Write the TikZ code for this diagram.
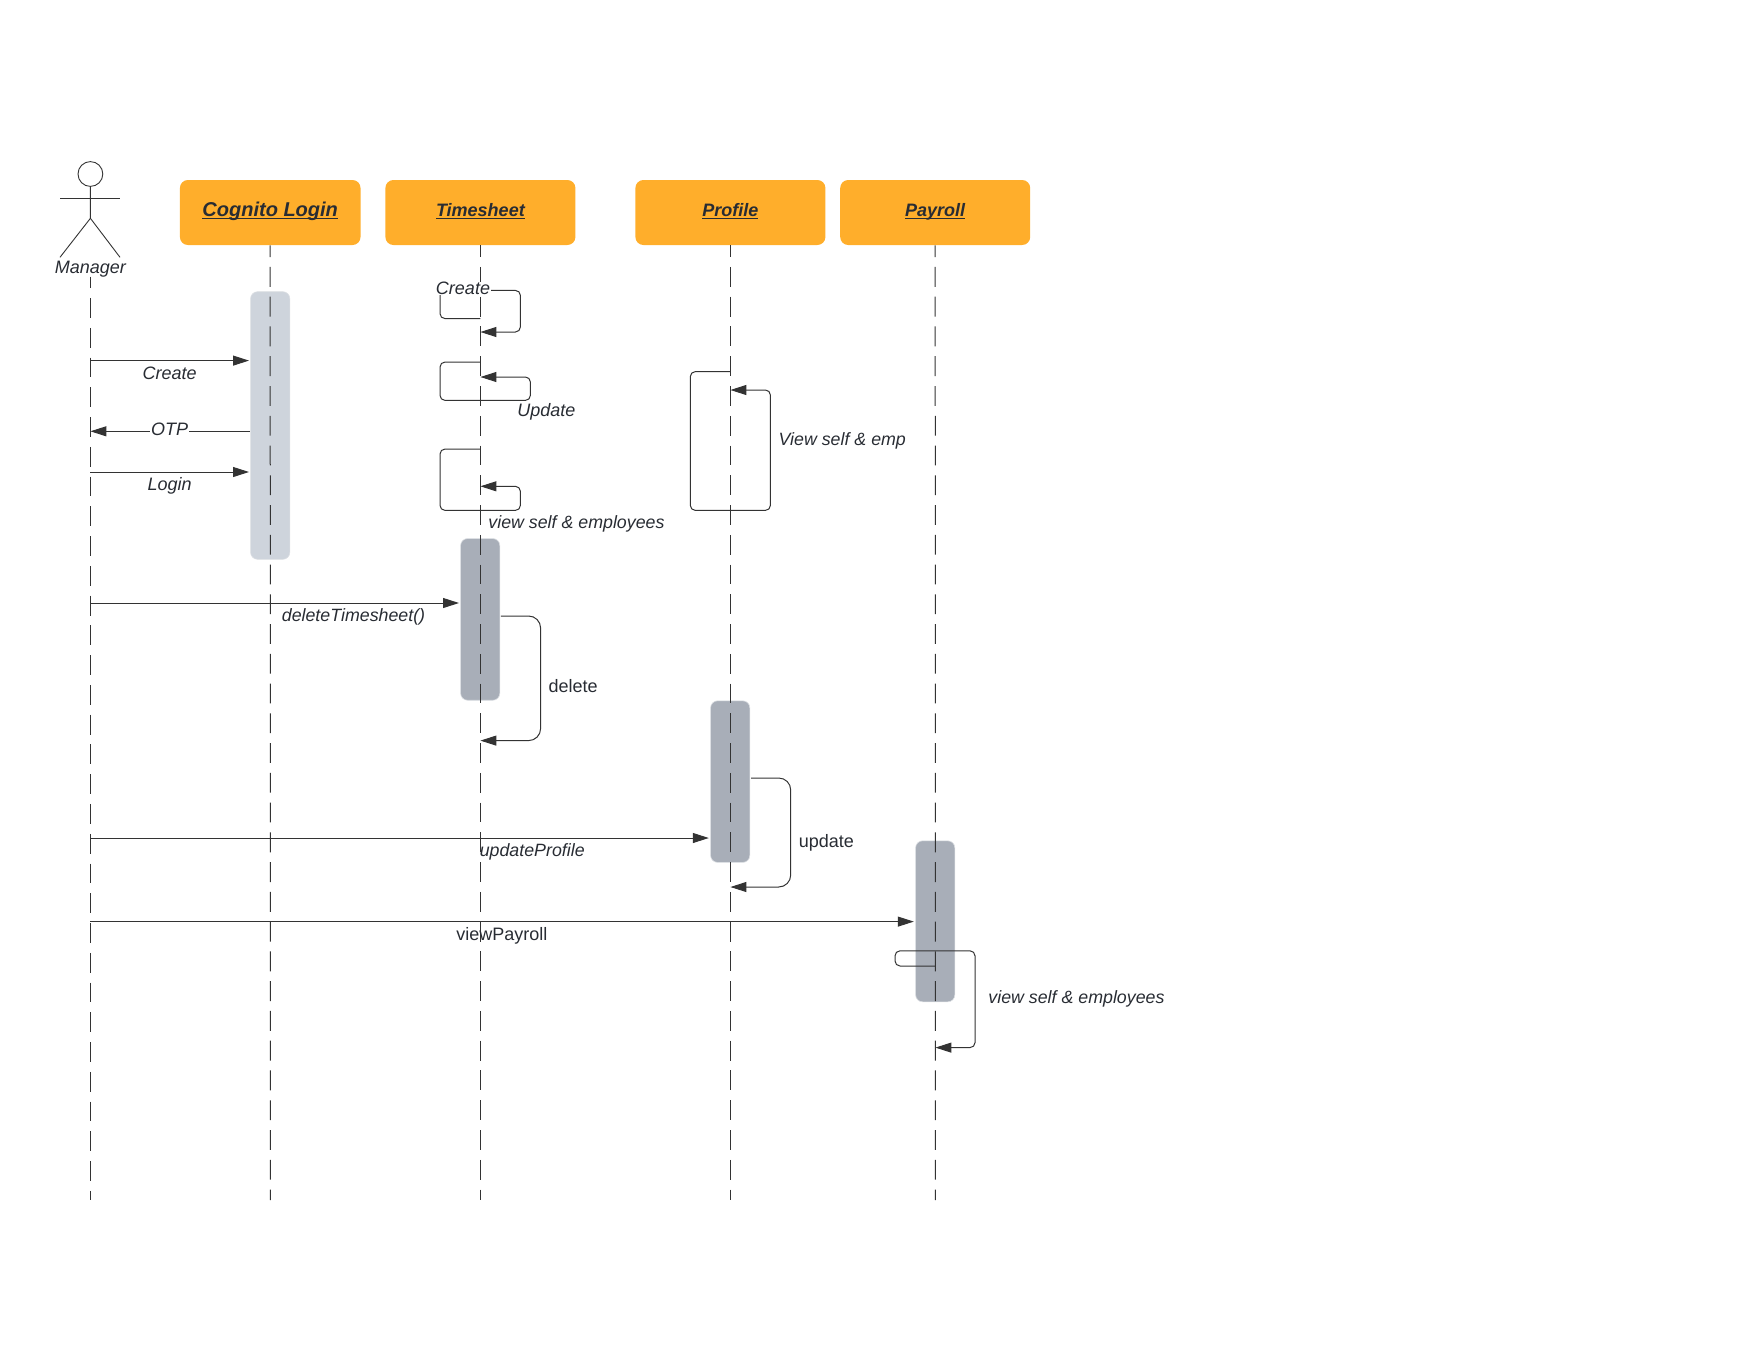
\documentclass[tikz,border=0pt]{standalone}
\usepackage{fontspec}
\setmainfont{Liberation Sans}
\definecolor{header}{RGB}{255,174,43}
\definecolor{ink}{RGB}{51,51,51}
\definecolor{inktext}{RGB}{40,44,51}
\definecolor{barlight}{RGB}{206,212,220}
\definecolor{bardark}{RGB}{168,174,184}
\usetikzlibrary{arrows.meta,positioning}
\newcommand{\ulabel}[1]{\setbox0=\hbox{#1}\rlap{\rule[-1.3pt]{\wd0}{.8pt}}\box0}
\tikzset{
  headbox/.style={fill=header, rounded corners=4pt, minimum width=95pt, minimum height=32.5pt,
              inner sep=0pt, text=inktext, font=\fontsize{9}{11}\selectfont\bfseries\itshape,
              text height=6.2pt, text depth=2pt},
  actbar/.style={rounded corners=3.5pt, minimum width=19.6pt, inner sep=0pt, draw=white!60!bardark, line width=.3pt},
  lifeline/.style={ink, line width=.5pt, dash pattern=on 9.92pt off 4.96pt, dash phase=4.1pt},
  msg/.style={-{Triangle[length=8pt,width=5pt]}, ink, line width=.5pt},
  selfmsg/.style={msg, rounded corners=2.5pt},
  callmsg/.style={msg, rounded corners=6pt},
  msgtext/.style={font=\fontsize{9}{11}\selectfont\itshape, text=inktext, inner sep=0pt},
  plaintext/.style={font=\fontsize{9}{11}\selectfont, text=inktext, inner sep=0pt},
}
\begin{document}
\begin{tikzpicture}[x=.5pt,y=-.5pt]
    \useasboundingbox (0,0) rectangle (1760,1360);
    % actor
    \node[circle,draw=ink,line width=.45pt,minimum size=12.4pt,inner sep=0pt] (head) at (90.4,174) {};
    \coordinate (hip) at (90.4,218.3);
    \coordinate (armL) at (60,198);
    \coordinate (armR) at (120,198);
    \coordinate (legL) at (60,257.3);
    \coordinate (legR) at (120,257.3);
    \draw[ink,line width=.45pt] (head.south) -- (hip) -- (legL);
    \draw[ink,line width=.45pt] (hip) -- (legR);
    \draw[ink,line width=.45pt] (armL) -- (armR);
    \node[msgtext] (manager) at (90.4,268.7) {Manager};
    % lifeline heads
    \node[headbox,minimum width=90.3pt,font=\fontsize{10}{12}\selectfont\bfseries\itshape] (cognito) at (270.2,212.5) {\ulabel{Cognito Login}};
    \node[headbox] (timesheet) at (480.4,212.5) {\ulabel{Timesheet}};
    \node[headbox] (profile) at (730.4,212.5) {\ulabel{Profile}};
    \node[headbox] (payroll) at (935.2,212.5) {\ulabel{Payroll}};
    % activation bars
    \node[actbar,fill=barlight,minimum height=133.8pt] (barCognito) at (270.2,425.5) {};
    \node[actbar,fill=bardark,minimum height=80.85pt] (barTimesheet) at (480.2,619.4) {};
    \node[actbar,fill=bardark,minimum height=80.8pt] (barProfile) at (730.2,781.6) {};
    \node[actbar,fill=bardark,minimum height=80.5pt] (barPayroll) at (935.2,921.3) {};
    % lifelines
    \coordinate (manTop) at (90.4,276.7);
    \coordinate (manEnd) at (90.4,1200);
    \draw[lifeline,dash phase=4.2pt] (manTop) -- (manEnd);
    \foreach \who/\xpos in {cognito/270.4,timesheet/480.4,profile/730.4,payroll/935.4}{
      \coordinate (\who End) at (\xpos,1200);
      \draw[lifeline] (\who.south) -- (\who End);
    }
    % login messages
    \coordinate (createA) at (90.4,360.6);
    \coordinate (createB) at (249,360.6);
    \draw[msg] (createA) -- (createB);
    \node[msgtext] (createText) at (169.6,373) {Create};
    \coordinate (otpA) at (249.6,431.3);
    \coordinate (otpB) at (90.4,431.3);
    \draw[msg] (otpA) -- (otpB);
    \node[msgtext,fill=white,inner xsep=.5pt] (otpText) at (169.6,429.5) {OTP};
    \coordinate (loginA) at (90.4,472);
    \coordinate (loginB) at (249,472);
    \draw[msg] (loginA) -- (loginB);
    \node[msgtext] (loginText) at (169.6,486) {Login};
    % timesheet self messages
    \coordinate (tsCreateA) at (480.4,318.6);
    \coordinate (tsCreateB) at (480.4,332);
    \draw[selfmsg] (tsCreateA) -- (440,318.6) -- (440,290.4) -- (520.4,290.4) -- (520.4,332) -- (tsCreateB);
    \node[msgtext,fill=white,inner xsep=.5pt] (tsCreateText) at (463,288.3) {Create};
    \coordinate (tsUpdateA) at (480.4,362);
    \coordinate (tsUpdateB) at (480.4,377);
    \draw[selfmsg] (tsUpdateA) -- (440,362) -- (440,400.4) -- (530.4,400.4) -- (530.4,377) -- (tsUpdateB);
    \node[msgtext] (tsUpdateText) at (546.4,411.8) {Update};
    \coordinate (tsViewA) at (480.4,449);
    \coordinate (tsViewB) at (480.4,486.3);
    \draw[selfmsg] (tsViewA) -- (440,449) -- (440,510.4) -- (520.4,510.4) -- (520.4,486.3) -- (tsViewB);
    \node[msgtext,anchor=west,font=\fontsize{8.9}{11}\selectfont\itshape] (tsViewText) at (488,524) {view self \& employees};
    % profile self message
    \coordinate (pfViewA) at (730.4,371.6);
    \coordinate (pfViewB) at (730.4,390);
    \draw[selfmsg] (pfViewA) -- (690.3,371.6) -- (690.3,510.4) -- (770.4,510.4) -- (770.4,390) -- (pfViewB);
    \node[msgtext,anchor=west,font=\fontsize{8.9}{11}\selectfont\itshape] (pfViewText) at (778.2,441) {View self \& emp};
    % delete
    \coordinate (delA) at (90.4,603);
    \coordinate (delB) at (459,603);
    \draw[msg] (delA) -- (delB);
    \node[msgtext,font=\fontsize{8.9}{11}\selectfont\itshape] (delText) at (353.5,617) {deleteTimesheet()};
    \coordinate (delSelfA) at (500.8,616);
    \coordinate (delSelfB) at (480.4,740.6);
    \draw[callmsg] (delSelfA) -- (540.6,616) -- (540.6,740.6) -- (delSelfB);
    \node[plaintext,anchor=west] (delSelfText) at (548.3,685.7) {delete};
    % update
    \coordinate (updA) at (90.4,838);
    \coordinate (updB) at (708.8,838);
    \draw[msg] (updA) -- (updB);
    \node[msgtext,anchor=west,font=\fontsize{8.9}{11}\selectfont\itshape] (updText) at (479.4,851.4) {updateProfile};
    \coordinate (updSelfA) at (751,778);
    \coordinate (updSelfB) at (730.4,887);
    \draw[callmsg] (updSelfA) -- (790.7,778) -- (790.7,887) -- (updSelfB);
    \node[plaintext,anchor=west] (updSelfText) at (798.5,842.4) {update};
    % payroll
    \coordinate (payA) at (90.4,921.6);
    \coordinate (payB) at (913.8,921.6);
    \draw[msg] (payA) -- (payB);
    \node[plaintext] (payText) at (501.8,935.5) {viewPayroll};
    \coordinate (paySelfA) at (935.4,966);
    \coordinate (paySelfB) at (935.4,1047.6);
    \draw[selfmsg] (paySelfA) -- (895,966) -- (895,950.8) -- (975,950.8) -- (975,1047.6) -- (paySelfB);
    \node[msgtext,anchor=west,font=\fontsize{8.9}{11}\selectfont\itshape] (paySelfText) at (988,998.7) {view self \& employees};
\end{tikzpicture}
\end{document}
